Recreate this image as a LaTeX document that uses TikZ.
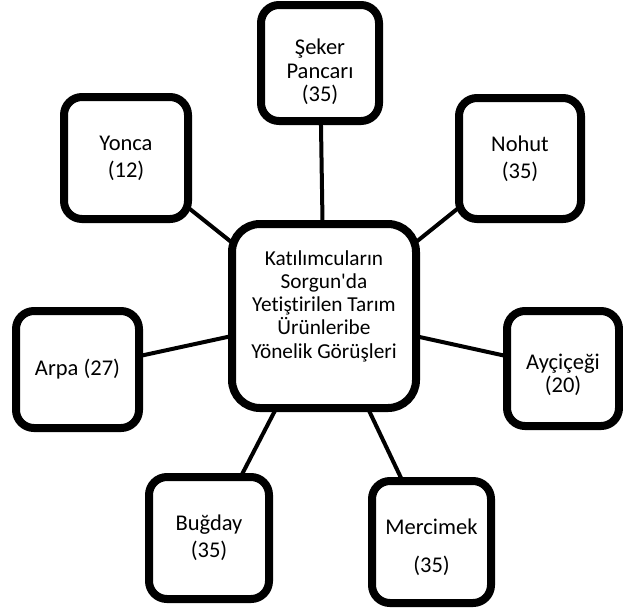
\documentclass[tikz,border=0pt]{standalone}
\usepackage{fontspec}
\setmainfont{Carlito}[Ligatures={TeXOff,NoCommon}]
\usetikzlibrary{backgrounds,shadows}
\begin{document}
\begin{tikzpicture}[x=1pt,y=-1pt,
  boxstyle/.style={draw=black, line width=8pt, fill=white, rounded corners=18pt,
    align=center, inner sep=0pt, font=\fontsize{22.5}{27}\selectfont,
    drop shadow={opacity=0.25, shadow xshift=2pt, shadow yshift=-3pt}},
  hubstyle/.style={boxstyle, rounded corners=28pt},
  textstyle/.style={align=center, inner sep=0pt},
  linkstyle/.style={draw=black, line width=4pt}]
\useasboundingbox (0,0) rectangle (623,611);
\node[hubstyle, minimum width=184pt, minimum height=184pt] (hub) at (324,316) {};
\node[textstyle, font=\fontsize{21.3}{23.2}\selectfont] (hubtext) at (324,306)
  {Katılımcuların\\Sorgun'da\\Yetiştirilen Tarım\\Ürünleribe\\Yönelik Görüşleri};
\node[boxstyle, minimum width=118pt, minimum height=116pt] (seker) at (320,63) {};
\node[textstyle, font=\fontsize{22.5}{23.5}\selectfont] (sekertext) at (320,72) {Şeker\\Pancarı\\(35)};
\node[boxstyle, minimum width=124pt, minimum height=122pt] (yonca) at (126,158) {Yonca\\(12)};
\node[boxstyle, minimum width=122pt, minimum height=121pt] (nohut) at (520,158.5) {Nohut\\(35)};
\node[boxstyle, minimum width=123pt, minimum height=117pt] (arpa) at (77.5,369.5) {Arpa (27)};
\node[boxstyle, minimum width=112pt, minimum height=115pt] (aycicegi) at (563,368.5) {};
\node[textstyle, font=\fontsize{22.5}{23.5}\selectfont] (aycicegitext) at (563,375) {Ayçiçeği\\(20)};
\node[boxstyle, minimum width=120pt, minimum height=122pt] (bugday) at (209,538) {Buğday\\(35)};
\node[boxstyle, minimum width=119pt, minimum height=122pt] (mercimek) at (431.5,542) {};
\node[textstyle, font=\fontsize{22.5}{38}\selectfont] (mercimektext) at (431.5,547) {Mercimek\\(35)};
\begin{scope}[on background layer]
\foreach \n in {seker,yonca,nohut,arpa,aycicegi,bugday,mercimek}
  \draw[linkstyle] (hub.center) -- (\n.center);
\end{scope}
\end{tikzpicture}
\end{document}
